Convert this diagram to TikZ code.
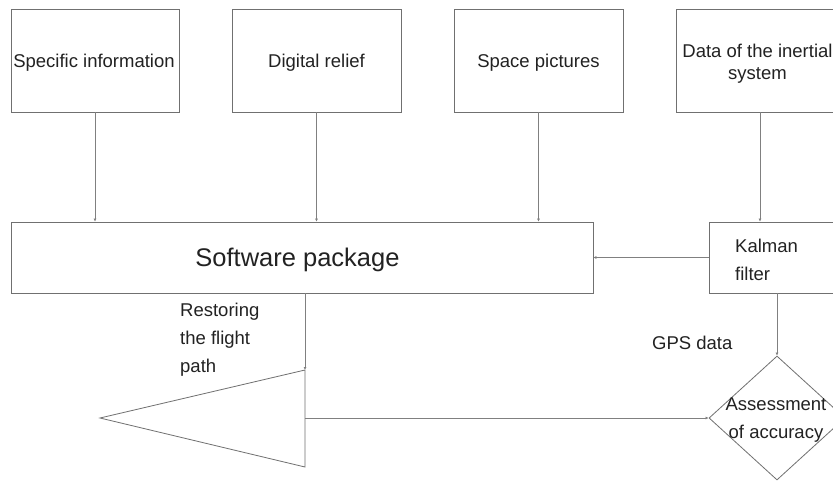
\documentclass[tikz,border=0pt]{standalone}
\usepackage{fontspec}
\setmainfont{Liberation Sans}
\usetikzlibrary{arrows.meta,shapes.geometric}
\definecolor{lc}{HTML}{808080}
\definecolor{bc}{HTML}{707070}
\definecolor{tc}{HTML}{222222}
\tikzset{
  box/.style={draw=bc,line width=0.8pt,fill=white,inner sep=0pt},
  btxt/.style={text=tc,font=\fontsize{18.5}{22}\selectfont,align=center,inner sep=0pt},
  lbl/.style={text=tc,font=\fontsize{18.5}{28}\selectfont,align=left,inner sep=0pt,anchor=north west},
  conn/.style={draw=lc,line width=0.8pt,-{Latex[length=3pt,width=3pt]}}
}
\begin{document}
\begin{tikzpicture}[x=1pt,y=-1pt]
\clip (0,0) rectangle (833,480);
\useasboundingbox (0,0) rectangle (833,480);
\fill[white] (0,0) rectangle (833,480);
% top boxes
\node[box,minimum width=168,minimum height=103] (b1) at (95,60.5) {};
\node[box,minimum width=169,minimum height=103] (b2) at (316.5,60.5) {};
\node[box,minimum width=169,minimum height=103] (b3) at (538.5,60.5) {};
\node[box,minimum width=168,minimum height=103] (b4) at (760,60.5) {};
\node[btxt] (t1) at (94,63) {Specific information};
\node[btxt] (t2) at (316.5,63) {Digital relief};
\node[btxt] (t3) at (538.5,63) {Space pictures};
\node[btxt] (t4) at (757.5,64) {Data of the inertial\\system};
% middle
\node[box,minimum width=582,minimum height=71] (sp) at (302,257.5) {};
\node[text=tc,font=\fontsize{25.5}{30}\selectfont,inner sep=0pt] (spt) at (297.5,260) {Software package};
\node[box,minimum width=136,minimum height=71] (kf) at (777,257.5) {};
\node[lbl] (kft) at (735,239) {Kalman\\filter};
% diamond
\node[draw=bc,line width=0.8pt,diamond,minimum width=136,minimum height=124,inner sep=0pt] (dia) at (777,418) {};
\node[btxt,font=\fontsize{18.5}{28}\selectfont] (diat) at (776,420) {Assessment\\of accuracy};
% triangle
\coordinate (tt) at (305,370);
\coordinate (tb) at (305,467);
\coordinate (tl) at (100,418);
\coordinate (tr) at (305,418);
\draw[bc,line width=0.8pt] (tt) -- (tb) -- (tl) -- cycle;
% labels
\node[lbl] (rest) at (180,303) {Restoring\\the flight\\path};
\node[lbl,anchor=west] (gps) at (652,343) {GPS data};
% connectors
\draw[conn] (b1.south) -- (b1.south |- sp.north);
\draw[conn] (b2.south) -- (b2.south |- sp.north);
\draw[conn] (b3.south) -- (b3.south |- sp.north);
\draw[conn] (b4.south) -- (b4.south |- kf.north);
\draw[conn] (kf.west) -- (kf.west -| sp.east);
\draw[conn] (kf.south) -- (dia.north);
\draw[conn] (sp.south -| tt) -- (tt);
\draw[conn] (tr) -- (dia.west);
\end{tikzpicture}
\end{document}
